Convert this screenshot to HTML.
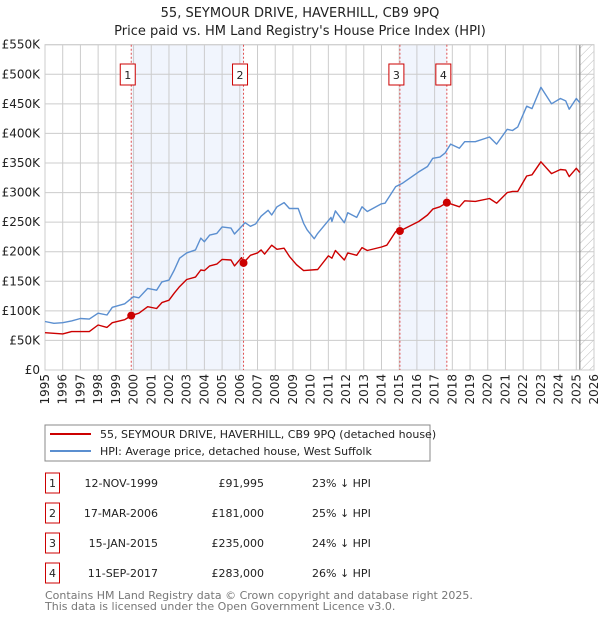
<!DOCTYPE html>
<html><head><meta charset="utf-8"><style>
body{margin:0;background:#fff;font-family:"Liberation Sans","DejaVu Sans",sans-serif;}
svg text{font-family:"DejaVu Sans","Liberation Sans",sans-serif;}
</style></head><body>
<svg id="c" width="600" height="620" xmlns="http://www.w3.org/2000/svg">
<defs><pattern id="hatch" width="6" height="6" patternUnits="userSpaceOnUse" patternTransform="rotate(45)"><line x1="0" y1="0" x2="0" y2="6" stroke="#bbb" stroke-width="1"/></pattern></defs>
<text x="300" y="17" text-anchor="middle" font-size="13" fill="#222">55, SEYMOUR DRIVE, HAVERHILL, CB9 9PQ</text>
<text x="300" y="35" text-anchor="middle" font-size="13" fill="#222">Price paid vs. HM Land Registry's House Price Index (HPI)</text>
<g id="plot"></g>
<rect x="45" y="425" width="385" height="36" fill="#fff" stroke="#888"/>
<line x1="50" y1="434" x2="91" y2="434" stroke="#cc0000" stroke-width="2"/>
<text x="100" y="438" font-size="11" fill="#222">55, SEYMOUR DRIVE, HAVERHILL, CB9 9PQ (detached house)</text>
<line x1="50" y1="451" x2="91" y2="451" stroke="#5b8fd0" stroke-width="2"/>
<text x="100" y="455" font-size="11" fill="#222">HPI: Average price, detached house, West Suffolk</text>
<g id="tbl"></g>
<text x="45" y="599" font-size="11" fill="#777">Contains HM Land Registry data © Crown copyright and database right 2025.</text>
<text x="45" y="610" font-size="11" fill="#777">This data is licensed under the Open Government Licence v3.0.</text>
</svg>
<script>
const hpiYears=[1995,1995.5,1996,1996.5,1997,1997.5,1998,1998.5,1998.8,1999.5,2000,2000.3,2000.8,2001.3,2001.6,2002,2002.3,2002.6,2003,2003.5,2003.8,2004,2004.3,2004.7,2005,2005.5,2005.7,2006.3,2006.6,2006.9,2007.2,2007.6,2007.8,2008.1,2008.5,2008.8,2009.3,2009.6,2009.8,2010.2,2010.4,2011.15,2011.2,2011.4,2011.9,2012.1,2012.6,2012.9,2013.2,2014,2014.2,2014.8,2015.2,2016.1,2016.6,2016.9,2017.3,2017.6,2017.9,2018.4,2018.7,2019.3,2020.1,2020.5,2021.1,2021.4,2021.7,2022.2,2022.5,2023,2023.6,2024.1,2024.4,2024.6,2025,2025.2];
const hpiValues=[82,79,80,83,87,86,96,93,106,112,124,122,138,135,149,152,169,189,198,203,223,217,228,231,242,240,230,249,243,247,260,270,262,276,283,273,273,248,237,222,231,258,251,269,249,266,258,276,268,281,282,310,316,335,344,358,360,367,382,375,386,386,394,382,407,405,411,446,442,478,450,459,455,441,459,452];
const propYears=[1995,1996,1996.5,1997,1997.5,1998,1998.5,1998.8,1999.5,1999.87,2000.3,2000.8,2001.3,2001.6,2002,2002.3,2002.6,2003,2003.5,2003.8,2004,2004.3,2004.7,2005,2005.5,2005.7,2006.1,2006.21,2006.6,2007,2007.2,2007.4,2007.8,2008.1,2008.5,2008.8,2009.2,2009.6,2010.4,2011,2011.2,2011.4,2011.9,2012.1,2012.6,2012.9,2013.2,2014,2014.3,2014.8,2015.04,2016.1,2016.6,2016.9,2017.3,2017.69,2018.4,2018.7,2019.3,2020.1,2020.5,2021.1,2021.4,2021.7,2022.2,2022.5,2023,2023.6,2024.1,2024.4,2024.6,2025,2025.2];
const propValues=[63,61,65,65,65,76,72,80,85,92,96,107,104,114,118,130,141,153,157,169,168,176,179,187,186,176,190,181,194,198,203,196,211,204,206,192,178,168,170,193,189,202,186,198,194,207,202,208,211,234,235,251,262,272,276,283,276,286,285,290,282,300,302,302,328,330,352,332,339,338,327,341,334];
const saleLabels=["1","2","3","4"];
const saleYears=[1999.87,2006.21,2015.04,2017.69];
const salePrices=[91.995,181,235,283];
const saleDates=["12-NOV-1999","17-MAR-2006","15-JAN-2015","11-SEP-2017"];
const salePriceText=["£91,995","£181,000","£235,000","£283,000"];
const saleDiff=["23% ↓ HPI","25% ↓ HPI","24% ↓ HPI","26% ↓ HPI"];
const yTicks=[0,50,100,150,200,250,300,350,400,450,500,550];
const yTickLabels=["£0","£50K","£100K","£150K","£200K","£250K","£300K","£350K","£400K","£450K","£500K","£550K"];
const xTicks=[];for(let y=1995;y<=2026;y++)xTicks.push(y);
const dataEnd=2025.2;

const X0=45,X1=594,Y0=370,Y1=44.7;
const xs=y=>X0+(y-1995)/(2026-1995)*(X1-X0);
const ys=v=>Y0-v/550*(Y0-Y1);
const NS="http://www.w3.org/2000/svg";
function mk(tag,attrs,parent,txt){const e=document.createElementNS(NS,tag);for(const k in attrs)e.setAttribute(k,attrs[k]);if(txt!==undefined)e.textContent=txt;parent.appendChild(e);return e;}
const g=document.getElementById('plot');
for(let i=0;i<saleYears.length;i+=2){
 const r=mk('rect',{x:xs(saleYears[i]),y:Y1,width:xs(saleYears[i+1])-xs(saleYears[i]),height:Y0-Y1,fill:'#eef3fc',opacity:0.8},g);
 
 
}
xTicks.forEach((t,i)=>{
 const l=mk('line',{x1:xs(t),x2:xs(t),y1:Y1,y2:Y0,stroke:'#cccccc','stroke-width':1},g);
 
 
 const tx=mk('text',{x:0,y:0,transform:`translate(${xs(t)+4},${Y0+4}) rotate(-90)`,'text-anchor':'end','font-size':12,fill:'#222'},g,String(t));
 
 
});
yTicks.forEach((t,i)=>{
 const l=mk('line',{x1:X0,x2:X1,y1:ys(t),y2:ys(t),stroke:'#cccccc','stroke-width':1},g);
 
 
 const tx=mk('text',{x:40,y:ys(t)+4,'text-anchor':'end','font-size':12,fill:'#222'},g,yTickLabels[i]);
 
 
});
const h=mk('rect',{x:xs(dataEnd),y:Y1,width:X1-xs(dataEnd),height:Y0-Y1,fill:'url(#hatch)'},g);


const hl=mk('line',{x1:xs(dataEnd),x2:xs(dataEnd),y1:Y1,y2:Y0,stroke:'#888','stroke-width':1.2},g);


const fr=mk('rect',{x:X0,y:Y1,width:X1-X0,height:Y0-Y1,fill:'none',stroke:'#ccc'},g);


saleYears.forEach((s,i)=>{
 const l=mk('line',{x1:xs(s),x2:xs(s),y1:Y1,y2:Y0,stroke:'#e05050','stroke-width':1,'stroke-dasharray':'2,2'},g);
 
 
});
function path(xa,va,color,name){
 const d=xa.map((x,i)=>(i?'L':'M')+xs(x).toFixed(1)+','+ys(va[i]).toFixed(1)).join('');
 const p=mk('path',{d:d,fill:'none',stroke:color,'stroke-width':1.4,'stroke-linejoin':'round'},g);
 
 
}
path(hpiYears,hpiValues,'#5b8fd0','hpi-line');
path(propYears,propValues,'#cc0000','property-price-line');
saleYears.forEach((s,i)=>{
 const c=mk('circle',{cx:xs(s),cy:ys(salePrices[i]),r:4,fill:'#cc0000'},g);
 
 
 const b=mk('rect',{x:xs(s)-11,y:64,width:15,height:21,fill:'#fff',stroke:'#cc0000'},g);
 
 
 const t=mk('text',{x:xs(s)-3.5,y:79,'text-anchor':'middle','font-size':11,fill:'#222'},g,saleLabels[i]);
 
 
});
const tb=document.getElementById('tbl');
saleLabels.forEach((lab,i)=>{
 const y=483+i*30;
 const b=mk('rect',{x:45.5,y:y-10,width:14,height:20,fill:'#fff',stroke:'#cc0000'},tb);
 
 
 const t0=mk('text',{x:52.5,y:y+4,'text-anchor':'middle','font-size':11,fill:'#222'},tb,lab);
 
 
 const t1=mk('text',{x:158,y:y+4,'text-anchor':'end','font-size':11,fill:'#222'},tb,saleDates[i]);
 
 
 const t2=mk('text',{x:264,y:y+4,'text-anchor':'end','font-size':11,fill:'#222'},tb,salePriceText[i]);
 
 
 const t3=mk('text',{x:312,y:y+4,'font-size':11,fill:'#222'},tb,saleDiff[i]);
 
 
});
</script>
</body></html>
